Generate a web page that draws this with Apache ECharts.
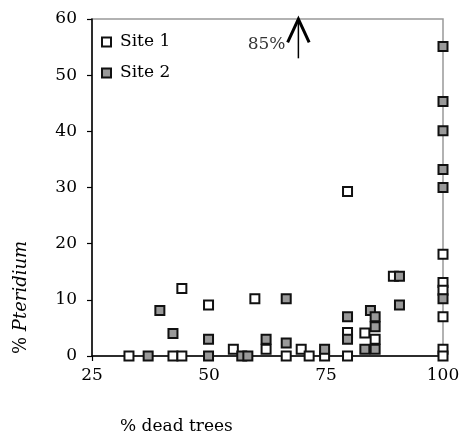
<!DOCTYPE html>
<html>
<head>
<meta charset="utf-8">
<script src="https://cdn.jsdelivr.net/npm/echarts@6/dist/echarts.min.js"></script>
<style>
  html, body { margin: 0; padding: 0; background: #fff; }
  #chart { width: 463px; height: 437px; }
</style>
</head>
<body>
<div id="chart"></div>
<script>
// % dead trees (x) vs % Pteridium cover (y) for two sites
const site1 = [
  [32.9, 0], [42.3, 0], [44.2, 0], [44.2, 12.0], [49.9, 9.1], [55.2, 1.2],
  [59.8, 10.2], [62.2, 1.2], [66.5, 0], [69.7, 1.2], [71.4, 0], [74.7, 0],
  [79.6, 29.3], [79.6, 4.2], [79.6, 0], [83.3, 4.1], [85.5, 3.0], [89.4, 14.2],
  [100, 18.1], [100, 13.1], [100, 11.7], [100, 7.0], [100, 1.2], [100, 0]
];
const site2 = [
  [37.0, 0], [39.5, 8.1], [42.3, 4.0], [49.9, 3.0], [49.9, 0], [57.0, 0],
  [58.3, 0], [62.2, 3.0], [66.5, 10.2], [66.5, 2.3], [74.7, 1.2], [79.6, 7.0],
  [79.6, 3.0], [83.3, 1.2], [84.5, 8.1], [85.5, 7.0], [85.5, 5.2], [85.5, 1.2],
  [90.7, 14.2], [90.7, 9.1], [100, 55.1], [100, 45.3], [100, 40.1], [100, 33.2],
  [100, 30.0], [100, 10.2]
];
const xTicks = [25, 50, 75, 100];
const yTicks = [0, 10, 20, 30, 40, 50, 60];

// Off-scale value: one point at 85 % Pteridium, shown by an arrow at the top edge
const offScaleX = 69.1;
const offScaleLabel = '85%';
const arrowShaft = [[offScaleX, 53.0], [offScaleX, 60]];
const arrowHead = [[offScaleX - 2.3, 55.85], [offScaleX, 60], [offScaleX + 2.3, 55.85]];
const labelPos = [[62.3, 55.5]];

const FONT = 'DejaVu Serif';
const chart = echarts.init(document.getElementById('chart'), null, { renderer: 'canvas' });

const markerBase = { borderColor: '#111', borderWidth: 2, opacity: 1 };

chart.setOption({
  animation: false,
  backgroundColor: '#fff',
  textStyle: { fontFamily: FONT, color: '#000' },
  grid: {
    left: 92, right: 20, top: 19, bottom: 81,
    show: true, borderColor: '#999', borderWidth: 1.5, backgroundColor: 'transparent'
  },
  legend: {
    data: ['Site 1', 'Site 2'],
    orient: 'vertical',
    left: 101, top: 32,
    padding: 0,
    itemGap: 11,
    itemWidth: 9, itemHeight: 9,
    icon: 'rect',
    textStyle: { fontFamily: FONT, fontSize: 17, color: '#000', lineHeight: 20, padding: [0, 0, 0, 4] }
  },
  xAxis: {
    type: 'value',
    min: xTicks[0], max: xTicks[xTicks.length - 1], interval: 25,
    axisLine: { show: true, onZero: false, lineStyle: { color: '#000', width: 1.5 } },
    axisTick: { show: true, length: 5, lineStyle: { color: '#000', width: 1.2 } },
    axisLabel: { fontFamily: FONT, fontSize: 17, color: '#000', margin: 11 },
    splitLine: { show: false }
  },
  yAxis: {
    type: 'value',
    min: yTicks[0], max: yTicks[yTicks.length - 1], interval: 10,
    axisLine: { show: true, onZero: false, lineStyle: { color: '#000', width: 1.5 } },
    axisTick: { show: true, length: 5, lineStyle: { color: '#000', width: 1.2 } },
    axisLabel: { fontFamily: FONT, fontSize: 17, color: '#000', margin: 15 },
    splitLine: { show: false }
  },
  graphic: [
    {
      type: 'text', left: 120, top: 418,
      style: { text: '% dead trees', font: '17px "DejaVu Serif"', fill: '#000' }
    },
    {
      type: 'text', x: 12, y: 354, rotation: Math.PI / 2,
      style: {
        text: '{a|% }{b|Pteridium}',
        rich: {
          a: { font: '18px "DejaVu Serif"', fill: '#000' },
          b: { font: 'italic 18px "DejaVu Serif"', fill: '#000' }
        }
      }
    }
  ],
  series: [
    {
      name: 'Site 1', type: 'scatter', data: site1,
      symbol: 'rect', symbolSize: 9, clip: false, z: 3,
      itemStyle: Object.assign({ color: '#fff' }, markerBase)
    },
    {
      name: 'Site 2', type: 'scatter', data: site2,
      symbol: 'rect', symbolSize: 9, clip: false, z: 4,
      itemStyle: Object.assign({ color: '#999' }, markerBase)
    },
    {
      name: 'arrow-shaft', type: 'line', data: arrowShaft,
      symbol: 'none', clip: false, z: 5, silent: true,
      lineStyle: { color: '#000', width: 1.5 }
    },
    {
      name: 'arrow-head', type: 'line', data: arrowHead,
      symbol: 'none', clip: false, z: 5, silent: true,
      lineStyle: { color: '#000', width: 3, join: 'miter' }
    },
    {
      name: 'off-scale-label', type: 'scatter', data: labelPos,
      symbolSize: 0, silent: true, z: 5,
      label: {
        show: true, position: 'inside', formatter: offScaleLabel,
        fontFamily: FONT, fontSize: 17, color: '#000'
      }
    }
  ]
});
</script>
</body>
</html>
